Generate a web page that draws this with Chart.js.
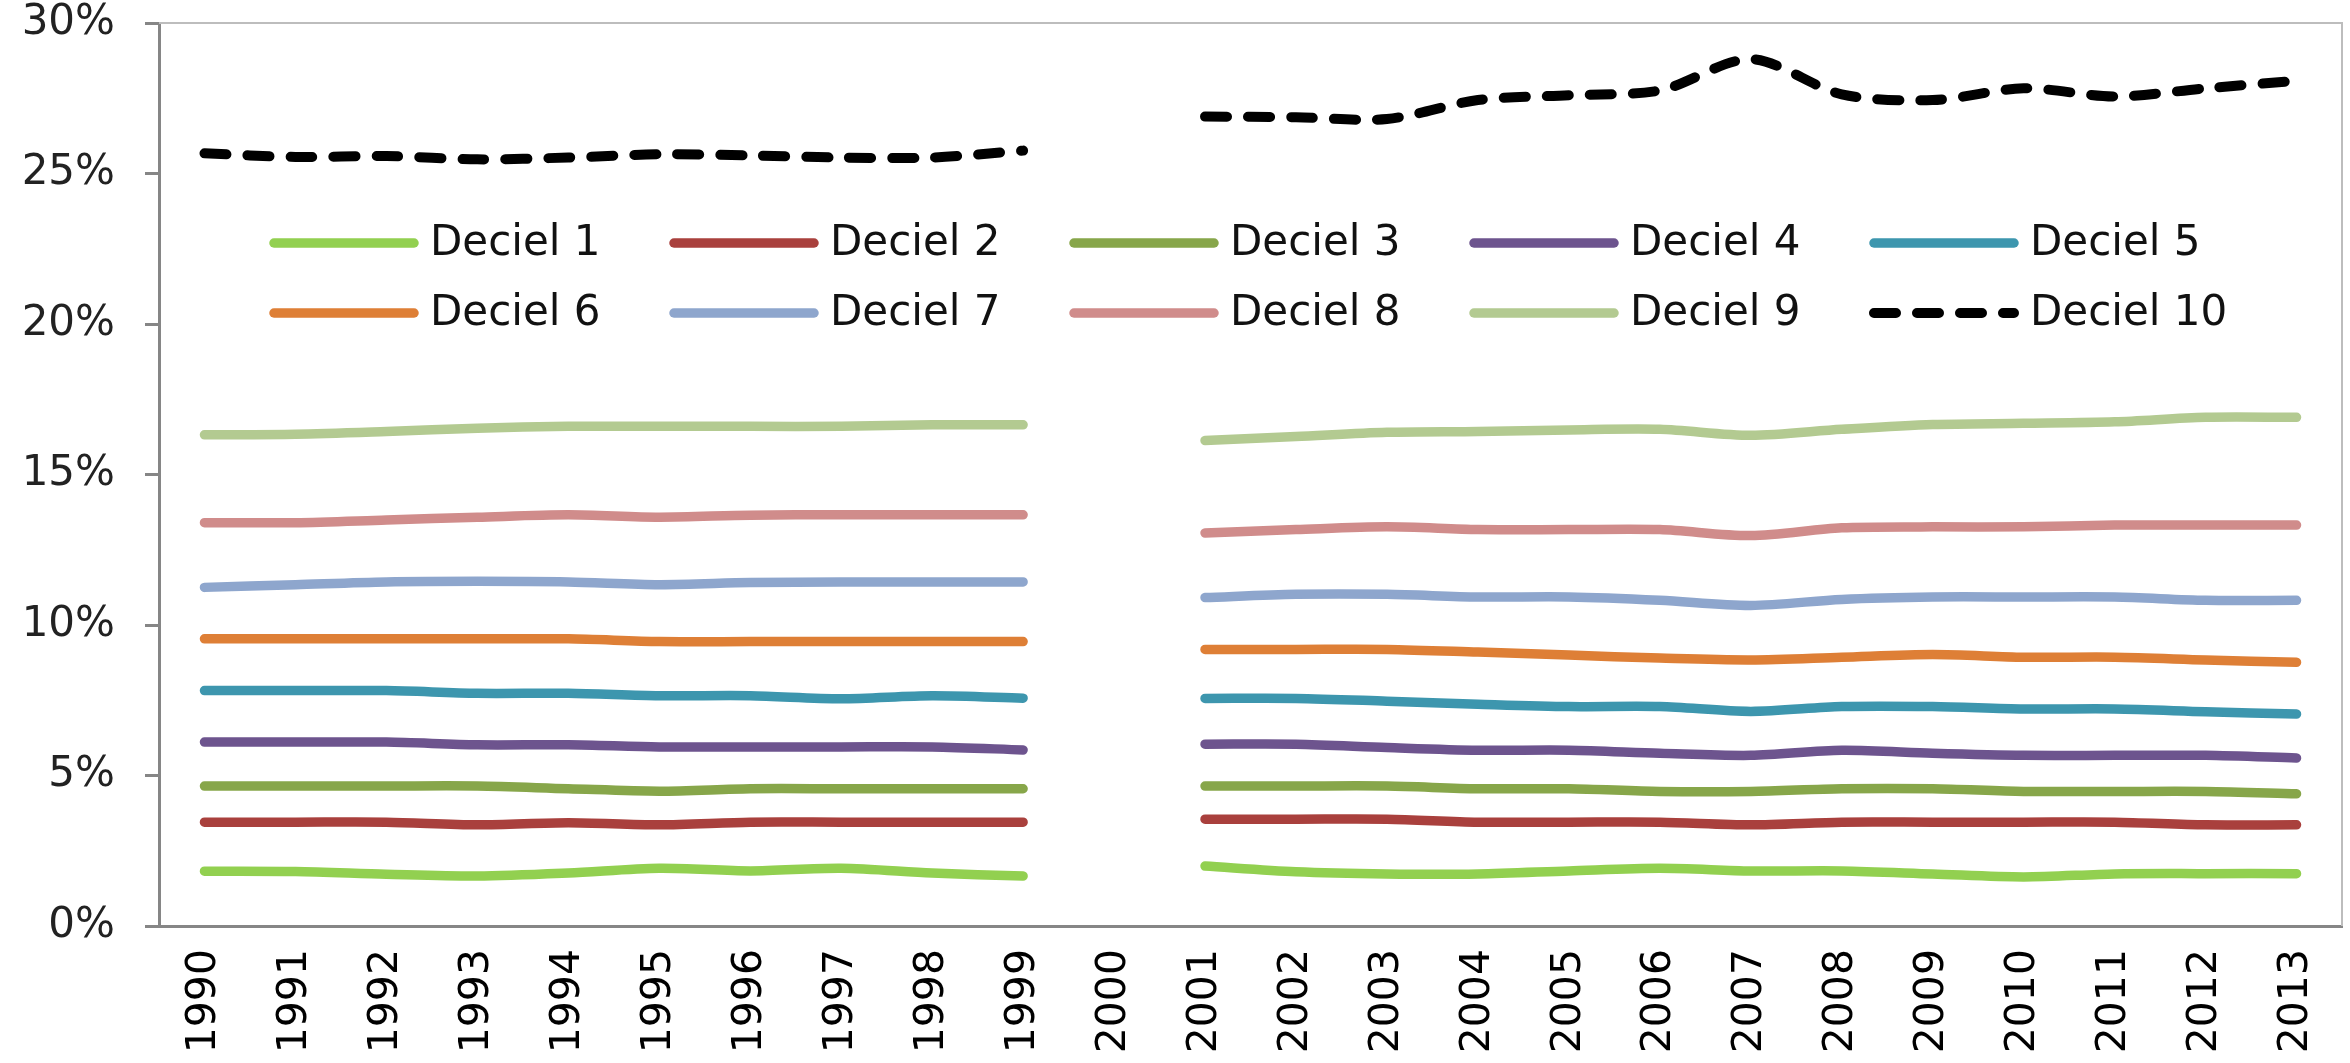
<!DOCTYPE html>
<html>
<head>
<meta charset="utf-8">
<script src="https://cdn.jsdelivr.net/npm/chart.js@4.4.1/dist/chart.umd.min.js"></script>
<style>
	html, body { margin: 0; padding: 0; background: #fff; }
	#wrap { width: 2350px; height: 1063px; }
</style>
</head>
<body>
<div id="wrap"><canvas id="deciles"></canvas></div>
<script>
// share of income per decile, in percent (2000 missing)

var years = ["1990", "1991", "1992", "1993", "1994", "1995", "1996", "1997", "1998", "1999", "2000",
	"2001", "2002", "2003", "2004", "2005", "2006", "2007", "2008", "2009", "2010", "2011", "2012", "2013"];

var yTicks = [0, 5, 10, 15, 20, 25, 30];

var deciel1 = [1.82, 1.81, 1.72, 1.66, 1.76, 1.92, 1.83, 1.92, 1.76, 1.66, null,
	1.99, 1.80, 1.73, 1.73, 1.83, 1.92, 1.83, 1.83, 1.73, 1.63, 1.73, 1.74, 1.74];
var deciel2 = [3.45, 3.45, 3.45, 3.36, 3.43, 3.36, 3.45, 3.45, 3.45, 3.45, null,
	3.55, 3.55, 3.55, 3.45, 3.45, 3.45, 3.36, 3.45, 3.45, 3.45, 3.45, 3.36, 3.36];
var deciel3 = [4.65, 4.65, 4.65, 4.65, 4.56, 4.48, 4.56, 4.56, 4.56, 4.56, null,
	4.65, 4.65, 4.65, 4.56, 4.56, 4.47, 4.47, 4.56, 4.56, 4.47, 4.47, 4.47, 4.39];
var deciel4 = [6.11, 6.11, 6.11, 6.02, 6.02, 5.95, 5.95, 5.95, 5.95, 5.85, null,
	6.04, 6.04, 5.93, 5.84, 5.84, 5.74, 5.67, 5.84, 5.74, 5.67, 5.67, 5.67, 5.58];
var deciel5 = [7.82, 7.82, 7.82, 7.73, 7.73, 7.65, 7.65, 7.55, 7.65, 7.57, null,
	7.56, 7.56, 7.47, 7.37, 7.29, 7.29, 7.13, 7.29, 7.29, 7.21, 7.21, 7.12, 7.04];
var deciel6 = [9.54, 9.54, 9.54, 9.54, 9.54, 9.45, 9.45, 9.45, 9.45, 9.45, null,
	9.19, 9.19, 9.19, 9.10, 9.00, 8.90, 8.84, 8.93, 9.02, 8.93, 8.93, 8.84, 8.76];
var deciel7 = [11.25, 11.34, 11.43, 11.45, 11.43, 11.34, 11.41, 11.43, 11.43, 11.43, null,
	10.91, 11.02, 11.02, 10.93, 10.93, 10.82, 10.65, 10.85, 10.93, 10.93, 10.93, 10.82, 10.82];
var deciel8 = [13.40, 13.40, 13.49, 13.58, 13.66, 13.58, 13.65, 13.66, 13.66, 13.66, null,
	13.06, 13.17, 13.26, 13.17, 13.17, 13.17, 12.97, 13.23, 13.26, 13.26, 13.32, 13.32, 13.32];
var deciel9 = [16.32, 16.34, 16.43, 16.54, 16.60, 16.60, 16.60, 16.60, 16.65, 16.65, null,
	16.13, 16.26, 16.40, 16.43, 16.48, 16.50, 16.30, 16.50, 16.66, 16.70, 16.75, 16.90, 16.90];
var deciel10 = [25.67, 25.55, 25.58, 25.47, 25.53, 25.64, 25.60, 25.53, 25.53, 25.76, null,
	26.89, 26.87, 26.81, 27.44, 27.60, 27.76, 28.80, 27.63, 27.44, 27.83, 27.56, 27.83, 28.08];

var seriesLabels = ["Deciel 1", "Deciel 2", "Deciel 3", "Deciel 4", "Deciel 5",
	"Deciel 6", "Deciel 7", "Deciel 8", "Deciel 9", "Deciel 10"];
var seriesData = [deciel1, deciel2, deciel3, deciel4, deciel5, deciel6, deciel7, deciel8, deciel9, deciel10];
var seriesColors = ["#92d050", "#a9403d", "#87a64a", "#6d548e", "#3d96ae",
	"#de7f36", "#8ea6cd", "#d08c8b", "#b3ca91", "#000000"];

var FONT_FAMILY = '"DejaVu Sans", Verdana, sans-serif';
var AXIS_GREY = "#868686";

// legend drawn inside the plot, 5 columns x 2 rows like the excel original
var insideLegend = {
	id: "insideLegend",
	afterDatasetsDraw: function(chart, args, opts) {
		var ctx = chart.ctx, area = chart.chartArea;
		ctx.save();
		ctx.font = "42px " + FONT_FAMILY;
		ctx.textBaseline = "middle";
		ctx.textAlign = "left";
		chart.data.datasets.forEach(function(ds, i) {
			var col = i % opts.columns, row = Math.floor(i / opts.columns);
			var x = area.left + opts.left + col * opts.colWidth;
			var y = area.top + opts.top + row * opts.rowHeight;
			ctx.beginPath();
			ctx.strokeStyle = ds.borderColor;
			ctx.lineWidth = ds.borderWidth;
			ctx.lineCap = "round";
			ctx.setLineDash(ds.borderDash || []);
			ctx.moveTo(x, y);
			ctx.lineTo(x + opts.sampleLength, y);
			ctx.stroke();
			ctx.setLineDash([]);
			ctx.fillStyle = "#111";
			ctx.fillText(ds.label, x + opts.sampleLength + opts.gap, y + 1);
		});
		ctx.restore();
	}
};

// thin light frame on top and right of the plot area
var plotFrame = {
	id: "plotFrame",
	afterDraw: function(chart) {
		var ctx = chart.ctx, a = chart.chartArea;
		ctx.save();
		ctx.strokeStyle = "#bdbdbd";
		ctx.lineWidth = 2;
		ctx.beginPath();
		ctx.moveTo(a.left, a.top);
		ctx.lineTo(a.right, a.top);
		ctx.lineTo(a.right, a.bottom);
		ctx.stroke();
		ctx.restore();
	}
};

var datasets = seriesLabels.map(function(lbl, i) {
	var dashed = (i == 9);
	return {
		label: lbl,
		data: seriesData[i],
		borderColor: seriesColors[i],
		backgroundColor: seriesColors[i],
		borderWidth: dashed ? 10 : 9.5,
		borderDash: dashed ? [22, 21] : [],
		borderCapStyle: "round",
		borderJoinStyle: "round",
		tension: 0.3,
		pointRadius: 0,
		fill: false,
		spanGaps: false
	};
});

var cfg = {
	type: "line",
	data: { labels: years, datasets: datasets },
	options: {
		responsive: true,
		maintainAspectRatio: false,
		animation: false,
		layout: { padding: { top: 23, right: 8, left: 0, bottom: 0 } },
		plugins: {
			legend: { display: false },
			tooltip: { enabled: false },
			insideLegend: {
				columns: 5, left: 115, top: 220, colWidth: 400, rowHeight: 70,
				sampleLength: 140, gap: 16
			}
		},
		scales: {
			x: {
				offset: true,
				grid: { display: false },
				border: { display: true, color: AXIS_GREY, width: 3 },
				ticks: {
					color: "#000",
					font: { family: FONT_FAMILY, size: 41 },
					minRotation: 90, maxRotation: 90,
					padding: 15,
					autoSkip: false
				},
				afterFit: function(s) {
					s.height = 137;
					s.paddingLeft = 0; s.paddingRight = 0;
				}
			},
			y: {
				min: 0, max: 30,
				afterBuildTicks: function(s) {
					s.ticks = yTicks.map(function(v) { return { value: v }; });
				},
				grid: { drawOnChartArea: false, drawTicks: true, tickLength: 14, color: AXIS_GREY, lineWidth: 3 },
				border: { display: true, color: AXIS_GREY, width: 3 },
				ticks: {
					color: "#222",
					font: { family: FONT_FAMILY, size: 42 },
					padding: 30,
					callback: function(v) { return v + "%"; }
				},
				afterFit: function(s) {
					s.width = 159;
					s.paddingTop = 0; s.paddingBottom = 0;
				}
			}
		}
	},
	plugins: [insideLegend, plotFrame]
};

var ctx = document.getElementById("deciles").getContext("2d");
var chart = new Chart(ctx, cfg);
</script>
</body>
</html>
